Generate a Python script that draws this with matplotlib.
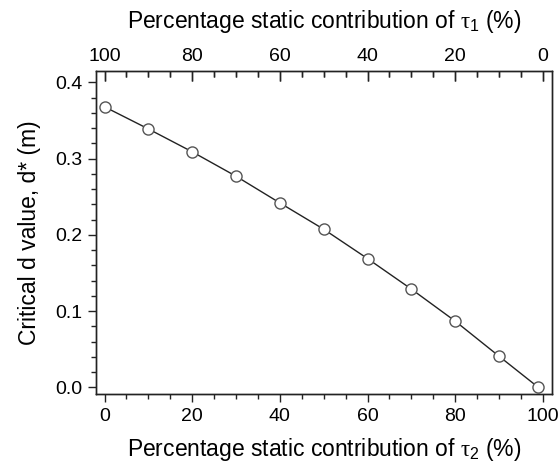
import matplotlib
matplotlib.use('Agg')
import matplotlib.pyplot as plt
from matplotlib.lines import TICKDOWN
from matplotlib.ticker import MultipleLocator

plt.rcParams['font.family'] = ['Liberation Sans', 'DejaVu Sans']
plt.rcParams['mathtext.fontset'] = 'custom'
plt.rcParams['mathtext.rm'] = 'Liberation Serif'
plt.rcParams['mathtext.it'] = 'Liberation Serif'
plt.rcParams['mathtext.sf'] = 'Liberation Sans'

# data
tau2_pct = [0, 10, 20, 30, 40, 50, 60, 70, 80, 90, 99]
d_crit = [0.368, 0.339, 0.309, 0.277, 0.242, 0.2075, 0.169, 0.129, 0.087, 0.041, 0.0]

X_LIM = (-2, 102)
Y_LIM = (-0.009, 0.415)

fig = plt.figure(figsize=(5.6, 4.7), dpi=100)
ax = fig.add_axes([0.171, 0.161, 0.814, 0.688])
ax.patch.set_visible(False)

ax.plot(tau2_pct, d_crit, color='#222222', lw=1.0, marker='o', markersize=8,
        markerfacecolor='white', markeredgecolor='#555555', markeredgewidth=1.0)

ax.set_xlim(*X_LIM)
ax.set_ylim(*Y_LIM)
ax.xaxis.set_major_locator(MultipleLocator(20))
ax.xaxis.set_minor_locator(MultipleLocator(5))
ax.yaxis.set_major_locator(MultipleLocator(0.1))
ax.yaxis.set_minor_locator(MultipleLocator(0.02))
ax.yaxis.set_major_formatter(matplotlib.ticker.FormatStrFormatter('%.1f'))

for s in ax.spines.values():
    s.set_linewidth(1.0)
    s.set_color('#222222')

ax.tick_params(which='both', direction='out', labelsize=14, width=1.0, color='#222222')
ax.tick_params(which='major', length=6)
ax.tick_params(which='minor', length=3.5)
ax.tick_params(axis='x', which='both', top=False)

ax.set_xlabel(r'Percentage static contribution of $\tau_\mathsf{2}$ (%)', fontsize=16.5, labelpad=8)
ax.set_ylabel('Critical d value, d* (m)', fontsize=16.5, labelpad=10)

# top axis: tau1 share = 100 - tau2 share
top = ax.twiny()
top.set_zorder(5)
top_lim = (100 - X_LIM[0], 100 - X_LIM[1])
top.set_xlim(*top_lim)
top.set_autoscale_on(False)
top.xaxis.set_major_locator(MultipleLocator(20))
top.xaxis.set_minor_locator(MultipleLocator(5))
top.tick_params(axis='x', which='both', top=True, bottom=False, labeltop=True,
                direction='in', labelsize=14, width=1.0, color='#222222', pad=4)
top.tick_params(axis='x', which='major', length=7)
top.tick_params(axis='x', which='minor', length=4)
top.tick_params(axis='y', left=False, right=False, labelleft=False)
for s in top.spines.values():
    s.set_linewidth(1.0)
    s.set_color('#222222')
top.set_xlabel(r'Percentage static contribution of $\tau_\mathsf{1}$ (%)', fontsize=16.5, labelpad=15)

# inward tick marks on the top spine, placed from the top axis' own tick locations
tr = top.get_xaxis_transform()
for locs, size in [(top.xaxis.get_majorticklocs(), 7), (top.xaxis.get_minorticklocs(), 4)]:
    locs = [v for v in locs if min(top_lim) <= v <= max(top_lim)]
    top.plot(locs, [1.0] * len(locs), transform=tr, ls='none', marker=TICKDOWN,
             markersize=size, markeredgewidth=1.0, color='#222222', clip_on=False)

top.set_xlim(*top_lim)
ax.set_xlim(*X_LIM)
ax.set_ylim(*Y_LIM)

fig.savefig('out.png', dpi=100)
